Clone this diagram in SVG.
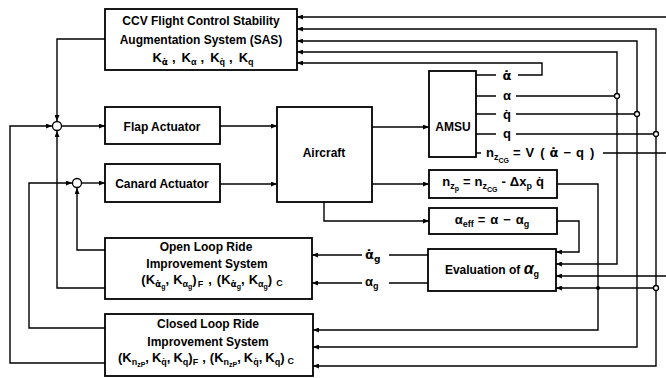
<svg xmlns="http://www.w3.org/2000/svg" width="666" height="378" viewBox="0 0 666 378">
<defs>
<marker id="arr" markerWidth="6" markerHeight="5" refX="6" refY="2.5" orient="auto" markerUnits="userSpaceOnUse"><path d="M0,0 L6,2.5 L0,5 z" fill="#000"/></marker>
<style>
text{font-family:"Liberation Sans",Arial,sans-serif;font-size:12px;font-weight:bold;fill:#000}
.box{fill:#fff;stroke:#000;stroke-width:1.8}
.ln{fill:none;stroke:#000;stroke-width:1.4}
.a{marker-end:url(#arr)}
.f{font-size:13px}
.s{font-size:9px}
.ss{font-size:7px}
.d{font-family:"DejaVu Sans",sans-serif}
.j{fill:#fff;stroke:#000;stroke-width:1.3}
.c{text-anchor:middle}
</style>
</defs>
<rect width="666" height="378" fill="#fff"/>
<g id="connectors">
<path class="ln a" d="M105,39 H57 V121"/>
<path class="ln a" d="M105,363 H10 V126 H52"/>
<path class="ln a" d="M105,288 H57 V131"/>
<path class="ln a" d="M62,126 H105"/>
<path class="ln a" d="M105,328 H29 V183 H72"/>
<path class="ln a" d="M105,250 H77 V188"/>
<path class="ln a" d="M82,183 H105"/>
<path class="ln a" d="M220,126 H277"/>
<path class="ln a" d="M220,184 H277"/>
<path class="ln a" d="M372,127 H429"/>
<path class="ln a" d="M372,184 H429"/>
<path class="ln a" d="M324,202 V221 H429"/>
<path class="ln" d="M476,75 H496 M476,96 H496 M476,114 H496 M476,134 H496 M476,153 H481"/>
<path class="ln a" d="M518,75 H542 V63 H297"/>
<path class="ln" d="M516,96 H614.5 M516,114 H634.5 M516,134 H653.5 M603,153 H666"/>
<path class="ln a" d="M617,98.5 V52 H297"/>
<path class="ln a" d="M617,98.5 V264 H556"/>
<path class="ln a" d="M637,116.5 V41 H297"/>
<path class="ln a" d="M637,116.5 V347 H313"/>
<path class="ln a" d="M656,136.5 V29 H297"/>
<path class="ln a" d="M656,136.5 V366 H313"/>
<path class="ln a" d="M653.5,288 H556"/>
<path class="ln a" d="M666,17 H297"/>
<path class="ln a" d="M666,276 H556"/>
<path class="ln a" d="M557,184 H598 V330 H313"/>
<path class="ln a" d="M557,221 H579 V252 H556"/>
<path class="ln" d="M428,255 H389 M428,283 H389"/>
<path class="ln a" d="M362,255 H312"/>
<path class="ln a" d="M362,283 H312"/>
<circle class="j" cx="617" cy="96" r="2.5"/>
<circle class="j" cx="637" cy="114" r="2.5"/>
<circle class="j" cx="656" cy="134" r="2.5"/>
<circle class="j" cx="656" cy="288" r="2.5"/>
<circle cx="598" cy="288" r="2" fill="#000"/>
</g>
<g id="labels">
<text class="c f d" x="507" y="80">α̇</text>
<text class="c f" x="507" y="100">α</text>
<text class="c f" x="507" y="119">q̇</text>
<text class="c f" x="507" y="138">q</text>
<text class="f" x="486" y="157">n<tspan class="s" dy="3">z</tspan><tspan class="ss" dy="3">CG</tspan><tspan dy="-6" dx="4">=</tspan><tspan dx="5">V</tspan><tspan dx="6">(</tspan><tspan class="d" dx="5">α̇</tspan><tspan dx="5">−</tspan><tspan dx="5">q</tspan><tspan dx="6">)</tspan></text>
<text class="f d" x="365" y="259">α̇<tspan class="s" dy="3">g</tspan></text>
<text class="f" x="365" y="286">α<tspan class="s" dy="3">g</tspan></text>
</g>
<g id="sas">
<rect class="box" x="105" y="9" width="192" height="61"/>
<text class="c" x="201" y="25">CCV Flight Control Stability</text>
<text class="c" x="201" y="44">Augmentation System (SAS)</text>
<text class="c f" x="203" y="62">K<tspan class="s d" dy="3">α̇</tspan><tspan dy="-3" dx="4">,</tspan><tspan dx="6">K</tspan><tspan class="s" dy="3">α</tspan><tspan dy="-3" dx="4">,</tspan><tspan dx="6">K</tspan><tspan class="s" dy="3">q̇</tspan><tspan dy="-3" dx="4">,</tspan><tspan dx="6">K</tspan><tspan class="s" dy="3">q</tspan></text>
</g>
<g id="sum1"><circle class="j" cx="57" cy="126" r="4.5"/></g>
<g id="sum2"><circle class="j" cx="77" cy="183" r="4.5"/></g>
<g id="flap">
<rect class="box" x="105" y="107" width="115" height="37"/>
<text class="c" x="162" y="131">Flap Actuator</text>
</g>
<g id="canard">
<rect class="box" x="105" y="164" width="115" height="38"/>
<text class="c" x="162" y="188">Canard Actuator</text>
</g>
<g id="aircraft">
<rect class="box" x="277" y="107" width="95" height="95"/>
<text class="c" x="324" y="157">Aircraft</text>
</g>
<g id="amsu">
<rect class="box" x="429" y="71" width="47" height="86"/>
<text class="c" x="453" y="131">AMSU</text>
</g>
<g id="nzp">
<rect class="box" x="429" y="170" width="128" height="28"/>
<text class="c f" x="493" y="186">n<tspan class="s" dy="3">z</tspan><tspan class="ss" dy="2">p</tspan><tspan dy="-5" dx="4">=</tspan><tspan dx="4">n</tspan><tspan class="s" dy="3">z</tspan><tspan class="ss" dy="3">CG</tspan><tspan dy="-6" dx="4">-</tspan><tspan dx="4">Δx</tspan><tspan class="s" dy="3">p</tspan><tspan dy="-3" dx="4">q̇</tspan></text>
</g>
<g id="aeff">
<rect class="box" x="429" y="208" width="128" height="26"/>
<text class="c f" x="492" y="224">α<tspan class="s" dy="3">eff</tspan><tspan dy="-3" dx="4">=</tspan><tspan dx="5">α</tspan><tspan dx="5">−</tspan><tspan dx="5">α</tspan><tspan class="s" dy="3">g</tspan></text>
</g>
<g id="eval">
<rect class="box" x="428" y="249" width="128" height="42"/>
<text class="c" x="492" y="274">Evaluation of <tspan style="font-size:16px;font-style:italic">α</tspan><tspan class="s" dy="3">g</tspan></text>
</g>
<g id="openloop">
<rect class="box" x="105" y="238" width="207" height="61"/>
<text class="c" x="206" y="251">Open Loop Ride</text>
<text class="c" x="207" y="268">Improvement System</text>
<text class="c f" x="212" y="284">(K<tspan class="s d" dy="3">α̇</tspan><tspan class="ss" dy="2">g</tspan><tspan dy="-5">,</tspan><tspan dx="4">K</tspan><tspan class="s" dy="3">α</tspan><tspan class="ss" dy="2">g</tspan><tspan dy="-5">)</tspan><tspan class="s" dy="3" dx="1">F</tspan><tspan dy="-3" dx="5">,</tspan><tspan dx="5">(K</tspan><tspan class="s d" dy="3">α̇</tspan><tspan class="ss" dy="2">g</tspan><tspan dy="-5">,</tspan><tspan dx="4">K</tspan><tspan class="s" dy="3">α</tspan><tspan class="ss" dy="2">g</tspan><tspan dy="-5">)</tspan><tspan class="s" dy="2" dx="4">C</tspan></text>
</g>
<g id="closedloop">
<rect class="box" x="105" y="314" width="208" height="62"/>
<text class="c" x="208" y="328">Closed Loop Ride</text>
<text class="c" x="208" y="346">Improvement System</text>
<text class="c f" x="206" y="362">(K<tspan class="s" dy="3">n</tspan><tspan class="ss" dy="2">zP</tspan><tspan dy="-5">,</tspan><tspan dx="3">K</tspan><tspan class="s" dy="3">q̇</tspan><tspan dy="-3">,</tspan><tspan dx="3">K</tspan><tspan class="s" dy="3">q</tspan><tspan dy="-3">)</tspan><tspan class="s" dy="3">F</tspan><tspan dy="-3" dx="4">,</tspan><tspan dx="4">(K</tspan><tspan class="s" dy="3">n</tspan><tspan class="ss" dy="2">zP</tspan><tspan dy="-5">,</tspan><tspan dx="3">K</tspan><tspan class="s" dy="3">q̇</tspan><tspan dy="-3">,</tspan><tspan dx="3">K</tspan><tspan class="s" dy="3">q</tspan><tspan dy="-3">)</tspan><tspan class="s" dy="2" dx="3">C</tspan></text>
</g>
</svg>
